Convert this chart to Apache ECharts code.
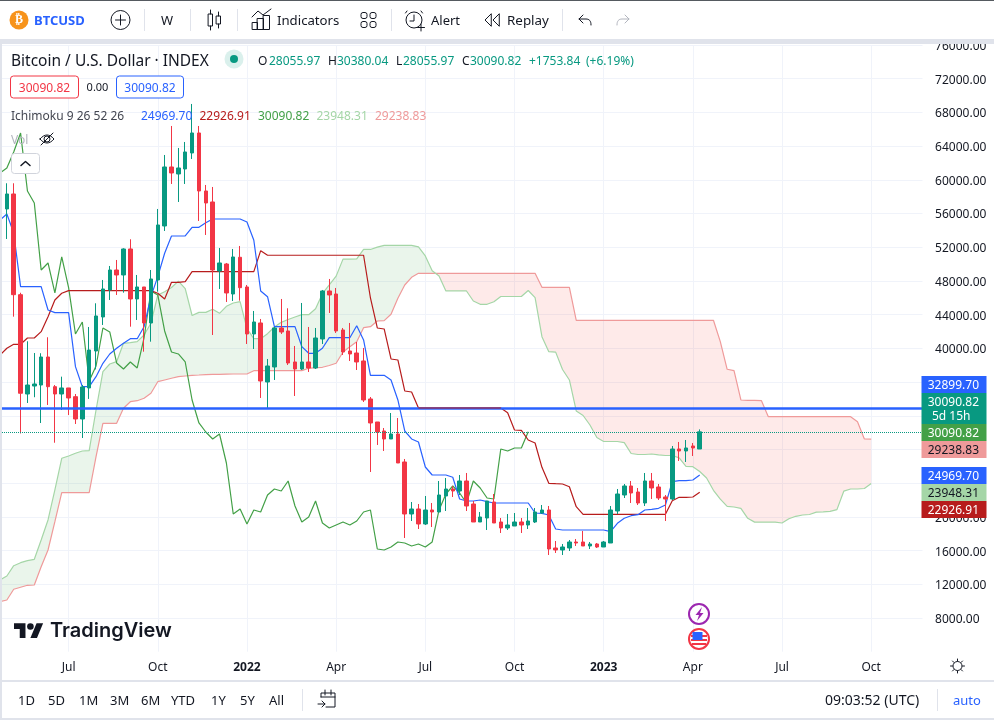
<!DOCTYPE html>
<html><head><meta charset="utf-8">
<style>html,body{margin:0;padding:0;background:#fff}#c{width:994px;height:720px}</style>
<script src="https://cdn.jsdelivr.net/npm/echarts@6/dist/echarts.min.js"></script>
</head><body><div id="c"></div>
<script>
const firstWeek = '2021-04-26';
const weekCount = 136;
const tickLabels = {'2021-07-05':'Jul','2021-10-04':'Oct','2022-01-03':'2022','2022-04-04':'Apr','2022-07-04':'Jul','2022-10-03':'Oct','2023-01-02':'2023','2023-04-03':'Apr','2023-07-03':'Jul','2023-10-02':'Oct'};
const opens = [49100,56540,58320,46370,34584,35530,35650,38975,35450,34584,35300,34264,31617,35300,39688,43723,46927,49300,48707,51793,45859,47283,43011,48114,54523,61525,60694,61287,63186,65560,58676,57371,49182,50012,46450,50808,47283,41705,43011,36009,37789,42417,42061,38382,37551,38382,37670,41112,46808,46452,42180,39688,39450,38501,33991,31261,30193,29244,29837,26514,20343,20936,19156,20817,20580,22479,23310,23072,24259,21530,19393,19868,21767,19393,18681,18919,19393,19037,19393,20461,20817,16308,16070,16308,17020,17020,16545,16782,16426,16901,20699,22598,23666,22954,21648,24259,23547,22360,22123,28057,27820,28413,28055.97];
const closes = [56600,58320,46370,34670,35650,35770,38975,35450,34584,35300,34110,31617,35414,39806,43841,47046,49300,48707,51793,45859,47283,43011,48233,54641,61525,60813,61406,63305,65560,58676,57252,49300,50131,46571,50843,47200,41705,43129,36127,37907,42417,41942,38263,37551,38382,37670,41230,46808,46334,42061,39569,39332,38382,33872,31143,30074,29244,29837,26395,20343,20936,19156,20817,20580,22598,23310,23072,24259,21292,19393,19987,21886,19275,18681,19037,19393,19037,19512,20580,20817,16189,16070,16426,17020,16901,16545,16782,16426,17020,20817,22716,23666,22835,21648,24259,23428,22242,22123,28057,27820,28176,28176,30090.82];
const lows = [47000,52980,43760,29900,33516,34200,31140,33279,28800,32685,32092,31024,29362,34000,37500,42773,45740,46334,46606,42572,43367,39604,40791,46725,53929,59507,57371,59507,62474,55116,53454,41586,47046,45503,45622,45657,40518,39925,34110,32923,36246,41705,38026,34347,37432,37195,37551,40518,44197,41824,39213,38501,37432,33635,25327,28532,27820,29244,26395,17494,19512,18562,19037,18800,20580,20698,22360,22598,20698,19393,19393,18444,19275,18088,18444,18919,18088,18562,19275,20343,15477,15714,15477,15952,16545,16545,16189,16308,16426,16901,20343,22242,21648,21411,21292,22123,22004,19512,22000,26633,26514,27226,28055.97];
const highs = [58000,59590,59590,46600,40840,39450,39420,41314,35650,36640,35300,34584,35650,42536,45348,48114,49775,50487,51876,52944,48707,47283,49300,56540,62949,66391,63780,64492,69002,66391,59388,59151,51911,50131,51793,52149,47520,44435,43485,38738,42536,45859,44755,40281,45384,42536,42417,46927,48233,47164,42417,43011,40756,40044,34228,31261,30549,32329,31736,26870,21767,21529,22479,21648,24259,24615,23666,24971,25208,21886,20580,21886,22716,19868,20343,20461,19868,21055,21055,21411,21292,17138,16782,17257,17376,18325,17020,16901,17138,21292,23310,23903,24259,23428,25208,25208,23903,22598,28413,28888,29125,28769,30380.04];
const tenkan = [55235,55947,53692,47318,47318,47318,47318,44553,44233,44233,44233,37825,35450,35450,36637,38227,39331,40008,40601,41147,41147,42572,46132,48506,51283,53336,53336,53336,54368,54368,54914,55353,55353,55353,55353,55353,54997,52834,46809,46132,42572,42572,42572,42572,40197,39414,39414,40008,41266,41266,41266,41266,42691,40993,36804,36804,36804,36246,33872,30193,29244,28888,25920,24971,24971,24971,24698,22123,21886,21886,22005,21803,21648,21648,21648,21648,21648,21648,20461,20425,20224,18562,18444,18444,18444,18444,18444,18444,18444,18242,19239,19832,20141,20260,20817,20900,21019,21411,24176,24295,24295,24378,24969.70];
const kijun = [39213,40008,40483,40483,41230,41230,41978,43759,45741,46536,46845,46845,46845,46845,46845,46845,46845,46845,46845,46845,46845,46845,46845,46536,45859,47841,47841,47912,49100,49100,49100,49100,49100,49100,49100,49100,49100,49100,51590,51046,51046,51046,51046,51046,51046,51046,51046,51046,51046,51046,51046,51046,51046,51046,45978,42417,42299,38738,38619,34940,34821,32923,32923,32923,32923,32923,32923,32923,32923,32923,32923,32923,32923,32923,32365,30312,30276,29125,28769,25885,23986,23939,23903,23583,21209,20306,20306,20306,20306,20306,20306,20306,20306,20306,20306,20306,20306,20306,21921,22325,22325,22360,22926.91];
const chikou = [60813,61406,63305,65560,58676,57252,49300,50131,46571,50843,47200,41705,43129,36127,37907,42417,41942,38263,37551,38382,37670,41230,46808,46334,42061,39569,39332,38382,33872,31143,30074,29244,29837,26395,20343,20936,19156,20817,20580,22598,23310,23072,24259,21292,19393,19987,21886,19275,18681,19037,19393,19037,19512,20580,20817,16189,16070,16426,17020,16901,16545,16782,16426,17020,20817,22716,23666,22835,21648,24259,23428,22242,22123,28057,27820,28176,28176,30090.82];
const senkouA = [12510,12985,14207,14563,14800,14967,17257,19631,23191,26953,27226,27546,27820,27855,32685,37231,38145,38418,40601,40672,40791,41586,42976,46333,46725,47224,47978,47088,43900,44274,44274,44648,44156,44987,45385,45539,42335,41148,41148,41741,42536,43088,43426,43723,43996,43996,44708,46488,47521,48571,50588,50588,50624,51734,51734,52007,52226,52226,52226,52226,52226,52048,50967,49200,48589,46809,46809,46809,46809,45622,45230,45230,45527,46156,46156,46156,46156,46868,46020,41391,39610,39551,37492,36246,32566,32032,30905,29421,28947,28947,28947,28810,27523,27404,27404,27464,27363,27285,27285,27006,25980,25962,25386,24615,23155,22105,21250,21173,21013,19826,19375,19375,19375,19375,19274,19772,20069,20223,20283,20561,20603,20662,20858,23048,23310,23310,23369,23948.31];
const senkouB = [9934,10136,11406,11643,11881,11916,14088,16070,19429,22870,22870,22870,22870,22870,27143,31107,31107,31107,32887,33668,33787,34072,34665,36042,36246,36447,36637,36720,36804,36839,36875,36900,36920,36940,36958,36958,36958,37350,37350,37350,37350,37350,37350,37350,37350,37634,37719,37752,37966,38227,39569,40197,40791,42453,42572,43248,43284,44044,45942,47520,48434,48909,48909,48909,48909,48909,48909,48909,48909,48909,48909,48909,48909,48909,48909,48909,48909,48909,48909,47245,47245,47245,47245,47245,43331,43331,43331,43331,43331,43331,43331,43331,43331,43331,43331,43331,43331,43331,43331,43331,43331,43331,43331,43331,43331,40791,37516,37350,33872,33837,33837,33789,31890,31890,31890,31890,31890,31890,31890,31890,31890,31890,31890,31890,31890,31297,29244,29238.83];
const alertPrice = 32899.70;
const lastPrice = 30090.82;

const categories = [];
{ const t0 = Date.parse(firstWeek + 'T00:00:00Z');
  for (let i = 0; i < weekCount; i++) categories.push(new Date(t0 + i * 604800000).toISOString().slice(0, 10)); }

const UP = '#089981', DOWN = '#f23645', INK = '#131722', GRID = '#f0f3fa', EDGE = '#e0e3eb';
const FONT = '"Noto Sans"';
const Z = 60;
const txt = (text, x, y, fill, size, o = {}) => ({ type: 'text', z: o.z || Z, silent: true, style: { text, x, y: y + 1.2, fill, font: (o.w || 'normal') + ' ' + (size || 12) + 'px ' + (o.f || FONT), textAlign: o.a || 'left', textVerticalAlign: 'middle', verticalAlign: 'middle' } });
const rect = (x, y, w, h, fill, o = {}) => ({ type: 'rect', z: o.z || Z - 1, silent: true, shape: { x, y, width: w, height: h, r: o.r || 0 }, style: { fill, stroke: o.s || null, lineWidth: o.lw || 1 } });
const circ = (cx, cy, r, fill, stroke, lw) => ({ type: 'circle', z: Z, silent: true, shape: { cx, cy, r }, style: { fill: fill || 'none', stroke: stroke || null, lineWidth: lw || 1 } });
// small icon helper: turns an M/L/H/V/Q/Z outline into polylines and polygons
function pth(d, stroke, o = {}) {
  const k = o.k || 1, ox = o.x || 0, oy = o.y || 0, out = [];
  const toks = d.match(/[MLHVQZmlhvz]|-?\d*\.?\d+/g);
  let i = 0, cmd = '', x = 0, y = 0, pts = [];
  const P = () => [ox + x * k, oy + y * k];
  const end = closed => { if (pts.length > 1) out.push({ type: closed ? 'polygon' : 'polyline', z: o.z || Z, silent: true, shape: { points: pts },
    style: { fill: o.fill || 'none', stroke: stroke || null, lineWidth: o.lw || 1, lineCap: 'round', lineJoin: 'round' } }); pts = []; };
  while (i < toks.length) {
    if (/[A-Za-z]/.test(toks[i])) cmd = toks[i++];
    const n = () => parseFloat(toks[i++]);
    if (cmd === 'Z' || cmd === 'z') { end(true); continue; }
    if (cmd === 'M') { end(false); x = n(); y = n(); pts.push(P()); cmd = 'L'; }
    else if (cmd === 'L') { x = n(); y = n(); pts.push(P()); }
    else if (cmd === 'l') { x += n(); y += n(); pts.push(P()); }
    else if (cmd === 'H') { x = n(); pts.push(P()); }
    else if (cmd === 'h') { x += n(); pts.push(P()); }
    else if (cmd === 'V') { y = n(); pts.push(P()); }
    else if (cmd === 'v') { y += n(); pts.push(P()); }
    else if (cmd === 'Q') { const cx = n(), cy = n(), ex = n(), ey = n(), sx = x, sy = y;
      for (let t = 1; t <= 8; t++) { const u = t / 8; x = (1 - u) * (1 - u) * sx + 2 * u * (1 - u) * cx + u * u * ex; y = (1 - u) * (1 - u) * sy + 2 * u * (1 - u) * cy + u * u * ey; pts.push(P()); } }
    else i++;
  }
  end(false);
  return out;
}

const graphics = [
  rect(0, 0, 994, 40, '#fff'), rect(0, 0, 994, 1, '#555a60', { z: Z + 1 }),
  rect(0, 39, 994, 5, EDGE), rect(0, 40, 2, 680, EDGE), rect(2, 680, 992, 2, EDGE), rect(0, 718, 994, 2, EDGE),
  rect(2, 682, 992, 36, '#fff'),
  rect(922.5, 44, 8, 400, '#fff', { z: 6 }), rect(922.5, 444, 8, 208, '#fff', { z: 6 }),
  // toolbar
  circ(19, 20, 9.5, '#f7931a'), txt('₿', 19, 19, '#fff', 12, { a: 'center', w: 'bold', f: '"DejaVu Sans"' }),
  txt('BTCUSD', 34, 20, '#2962ff', 13, { w: 'bold' }),
  circ(120.5, 20, 9.5, null, INK), ...pth('M115.5 20H125.5M120.5 15V25', INK),
  rect(144, 9, 1, 22, EDGE), rect(190, 9, 1, 22, EDGE), rect(237, 9, 1, 22, EDGE), rect(391, 9, 1, 22, EDGE), rect(562, 9, 1, 22, EDGE),
  txt('W', 167, 20, INK, 13, { a: 'center' }),
  ...pth('M210.5 10V14M210.5 26V30M218.5 12V16M218.5 24V28M208.5 14H212.5V26H208.5ZM216.5 16H220.5V24H216.5Z', INK),
  ...pth('M252.5 22.5H257.5V29.5H252.5ZM257.5 18.5H263.5V29.5H257.5ZM263.5 15.5H269.5V29.5H263.5ZM252 17L258 11L263 15L271 9', INK),
  txt('Indicators', 277, 20, INK, 13.2),
  ...[[361, 12.5], [370, 12.5], [361, 21.5], [370, 21.5]].map(p => rect(p[0], p[1], 6, 6, 'none', { r: 2, s: INK, z: Z })),
  circ(414, 20, 8, null, INK), ...pth('M407 11L405.5 13M421 11L422.5 13M414 15V21H410M421 24V31M417.5 27.5H424.5', INK),
  txt('Alert', 431, 20, INK, 13),
  ...pth('M491 14L485 20L491 26ZM499 14L493 20L499 26Z', INK),
  txt('Replay', 507, 20, INK, 13.4),
  ...pth('M583 15L579 19L583 23M579 19H586Q591 19 591 25', INK),
  ...pth('M625 15L629 19L625 23M629 19H622Q617 19 617 25', '#b2b5be'),
  // legend
  txt('Bitcoin / U.S. Dollar · INDEX', 11, 60, INK, 15.5),
  circ(234, 59, 9.5, 'rgba(8,153,129,0.15)'), circ(234, 59, 4, UP),
  txt('O', 258, 60, INK, 12), txt('28055.97', 269, 60, UP, 12),
  txt('H', 328, 60, INK, 12), txt('30380.04', 337, 60, UP, 12),
  txt('L', 396, 60, INK, 12), txt('28055.97', 403, 60, UP, 12),
  txt('C', 462, 60, INK, 12), txt('30090.82', 470, 60, UP, 12),
  txt('+1753.84', 529, 60, UP, 12), txt('(+6.19%)', 586, 60, UP, 12),
  rect(10.5, 76, 68, 22, '#fff', { r: 3, s: DOWN, z: Z }), txt('30090.82', 44.5, 87, DOWN, 12, { a: 'center', z: Z + 1 }),
  txt('0.00', 97.5, 87, INK, 11, { a: 'center' }),
  rect(116.5, 76, 67, 22, '#fff', { r: 3, s: '#2962ff', z: Z }), txt('30090.82', 150, 87, '#2962ff', 12, { a: 'center', z: Z + 1 }),
  txt('Ichimoku 9 26 52 26', 11, 115, '#434651', 12),
  txt('24969.70', 141, 115, '#2962ff', 12), txt('22926.91', 199.5, 115, '#b71c1c', 12),
  txt('30090.82', 258, 115, '#43a047', 12), txt('23948.31', 316.5, 115, '#a5d6a7', 12), txt('29238.83', 375, 115, '#ef9a9a', 12),
  txt('Vol', 11, 139, '#b2b5be', 12),
  ...pth('M40 139Q47 131 54 139Q47 147 40 139ZM41 145L53 133', INK), circ(47, 139, 3, null, INK),
  rect(11.5, 153.5, 28, 20, '#fff', { r: 3, s: '#d1d4dc', z: Z }), ...pth('M21 165.5L25.5 161.5L30 165.5', INK, { lw: 1.5 }),
  // price tags
  rect(921.5, 376, 65, 17, '#2962ff'), txt('32899.70', 979, 384.5, '#fff', 12, { a: 'right' }),
  rect(921.5, 393, 65, 31, UP), txt('30090.82', 979, 401, '#fff', 12, { a: 'right' }), txt('5d 15h', 932, 415, '#fff', 12),
  rect(921.5, 424, 65, 17, '#43a047'), txt('30090.82', 979, 432.5, '#fff', 12, { a: 'right' }),
  rect(921.5, 441, 65, 17, '#ef9a9a'), txt('29238.83', 979, 449.5, INK, 12, { a: 'right' }),
  rect(921.5, 467, 65, 17, '#2962ff'), txt('24969.70', 979, 475.5, '#fff', 12, { a: 'right' }),
  rect(921.5, 484, 65, 17, '#a5d6a7'), txt('23948.31', 979, 492.5, INK, 12, { a: 'right' }),
  rect(921.5, 501, 65, 17, '#b71c1c'), txt('22926.91', 979, 509.5, '#fff', 12, { a: 'right' }),
  // logo
  ...pth('M14 22H7V11H0V4h14v18zM28 22h-8L27.5 4h8L28 22z', null, { fill: INK, x: 14, y: 620, k: 0.82 }),
  circ(14 + 20 * 0.82, 620 + 8 * 0.82, 3.3, INK),
  txt('TradingView', 50, 630, INK, 20, { w: '600', f: 'Inter' }),
  // event markers
  circ(699, 614, 10, '#fff', '#9c27b0', 2),
  ...pth('M702 607L695.5 615H699L697 621L703.5 613H700Z', null, { fill: '#9c27b0', z: Z + 1 }),
  circ(699, 639, 10, '#fff', '#f23645', 2),
  rect(691, 635, 16, 2, '#f23645', { z: Z + 1 }), rect(691, 639, 16, 2, '#f23645', { z: Z + 1 }), rect(692, 643, 14, 2, '#f23645', { z: Z + 1 }),
  rect(692.5, 632, 10, 8, '#2962ff', { z: Z + 2 }),
  // settings
  circ(957.5, 666, 4.5, null, INK),
  ...pth('M957.5 659V661M957.5 671V673M950.5 666H952.5M962.5 666H964.5M952.5 661L954 662.5M961 669.5L962.5 671M952.5 671L954 669.5M961 662.5L962.5 661', INK),
  // bottom bar
  ...[['1D', 18], ['5D', 48], ['1M', 79], ['3M', 110], ['6M', 141], ['YTD', 171], ['1Y', 211], ['5Y', 240], ['All', 269]].map(p => txt(p[0], p[1], 700, INK, 13)),
  rect(302, 689, 1, 22, EDGE),
  ...pth('M321 697V693H335V707H326M321 697H335M325 690V695M331 690V695M318 704H325M322 701L325 704L322 707', INK),
  txt('09:03:52 (UTC)', 825, 700, INK, 14),
  rect(937, 689, 1, 22, EDGE),
  txt('auto', 953, 700, '#2962ff', 13)
];

function renderCloud(params, api) {
  if (params.dataIndexInside !== 0) return;
  const polys = [];
  let upper = [], lower = [], sign = 0;
  const flush = () => {
    if (upper.length > 1) polys.push({ type: 'polygon', silent: true, shape: { points: upper.concat(lower.slice().reverse()) },
      style: { fill: sign > 0 ? 'rgba(67,160,71,0.11)' : 'rgba(244,67,54,0.11)' } });
    upper = []; lower = [];
  };
  for (let i = 0; i < senkouA.length; i++) {
    const a = senkouA[i], b = senkouB[i], s = a >= b ? 1 : -1;
    if (sign && s !== sign) {
      const pa = senkouA[i - 1], pb = senkouB[i - 1], f = (pa - pb) / ((pa - pb) - (a - b));
      const px = api.coord([i - 1, pa])[0] + f * (api.coord([i, a])[0] - api.coord([i - 1, pa])[0]);
      const py = api.coord([i, pa + f * (a - pa)])[1];
      upper.push([px, py]); lower.push([px, py]); flush();
      upper.push([px, py]); lower.push([px, py]);
    }
    sign = s;
    upper.push(api.coord([i, a])); lower.push(api.coord([i, b]));
  }
  flush();
  return { type: 'group', children: polys };
}

const line = (name, data, color, z) => ({ name, type: 'line', data, symbol: 'none', z: z || 2, silent: true, connectNulls: false, lineStyle: { color, width: 1.2 }, itemStyle: { color } });
const isTick = (i, v) => tickLabels[v] !== undefined;

const chart = echarts.init(document.getElementById('c'), null, { width: 994, height: 720, renderer: 'canvas' });
chart.setOption({
  animation: false,
  backgroundColor: '#fff',
  textStyle: { fontFamily: FONT },
  grid: { left: 0, top: 45, width: 6.86 * (weekCount - 1), height: 606.7, containLabel: false },
  xAxis: { type: 'category', data: categories, boundaryGap: false,
    axisLine: { show: false }, axisTick: { show: false },
    splitLine: { show: true, interval: isTick, lineStyle: { color: GRID, width: 1 } },
    axisLabel: { interval: isTick, margin: 10, color: INK, fontSize: 12, fontFamily: FONT, showMinLabel: true, showMaxLabel: true, hideOverlap: false,
      formatter: v => { const t = tickLabels[v] || ''; return /^\d/.test(t) ? '{b|' + t + '}' : t; },
      rich: { b: { fontWeight: 'bold', fontSize: 12, color: INK, fontFamily: FONT } } } },
  yAxis: { type: 'value', position: 'right', min: 4000, max: 76000, interval: 4000, scale: true,
    axisLine: { show: false }, axisTick: { show: false },
    splitLine: { show: true, showMinLine: false, lineStyle: { color: GRID, width: 1 } },
    axisLabel: { inside: false, margin: 9, color: INK, fontSize: 12, fontFamily: FONT, verticalAlign: 'top', lineHeight: 3, formatter: v => v === 4000 ? '' : v.toFixed(2) } },
  series: [
    { name: 'Cloud', type: 'custom', z: 1, silent: true, renderItem: renderCloud, encode: { x: 0, y: [1, 2] },
      data: senkouA.map((a, i) => [i, a, senkouB[i]]) },
    line('Senkou B', senkouB, '#ef9a9a'),
    line('Senkou A', senkouA, '#a5d6a7'),
    line('Chikou', chikou, '#43a047'),
    line('Kijun', kijun, '#b71c1c'),
    line('Tenkan', tenkan, '#2962ff'),
    { name: 'BTCUSD', type: 'candlestick', z: 3, silent: true, barWidth: 4,
      itemStyle: { color: UP, color0: DOWN, borderColor: UP, borderColor0: DOWN, borderWidth: 1 },
      data: opens.map((o, i) => [o, closes[i], lows[i], highs[i]]),
      markLine: { silent: true, symbol: 'none', animation: false, z: 5, label: { show: false },
        data: [
          { yAxis: alertPrice, lineStyle: { color: '#2962ff', width: 2.5, type: 'solid' } },
          { yAxis: lastPrice, lineStyle: { color: UP, width: 1, type: 'dotted' } }
        ] } },
    // the flat stretch of the base line sits over the alert line
    line('Kijun (over alert line)', kijun.map((v, i) => (i >= 61 && i <= 73 ? v : null)), '#b71c1c', 6)
  ],
  graphic: { elements: graphics }
});
</script></body></html>
